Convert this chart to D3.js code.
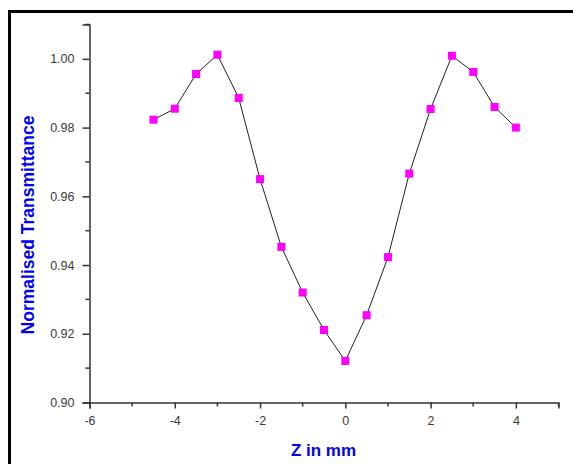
<!DOCTYPE html>
<html>
<head>
<meta charset="utf-8">
<script src="https://cdn.jsdelivr.net/npm/d3@7"></script>
<style>
  body { margin: 0; background: #fff; }
  svg { display: block; font-family: Arial, "Liberation Sans", sans-serif; }
</style>
</head>
<body>
<svg id="chart" width="573" height="464"></svg>
<script>
// z-scan data
const zPos = [-4.5, -4, -3.5, -3, -2.5, -2, -1.5, -1, -0.5, 0, 0.5, 1, 1.5, 2, 2.5, 3, 3.5, 4]
const transmittance = [0.9823, 0.9855, 0.9956, 1.0012, 0.9886, 0.9650, 0.9453, 0.9320, 0.9211,
    0.9121, 0.9254, 0.9423, 0.9666, 0.9854, 1.0009, 0.9962, 0.9860, 0.9800]
const xTicks = [-6, -4, -2, 0, 2, 4]
const xMinor = [-5, -3, -1, 1, 3, 5]
const yTicks = [0.90, 0.92, 0.94, 0.96, 0.98, 1.00]
const yMinor = [0.91, 0.93, 0.95, 0.97, 0.99, 1.01]

const svg = d3.select('#chart')
const axisColor = '#333'

// thick frame, only left and top are visible in the window
svg.append('path')
    .attr('d', 'M9.5,475 L9.5,11.5 L585,11.5')
    .attr('fill', 'none')
    .attr('stroke', '#000')
    .attr('stroke-width', 3)

const xAxis = d3.scaleLinear().domain([-6, 5]).range([89.5, 558.5])
const yAxis = d3.scaleLinear().domain([0.90, 1.01]).range([402.5, 24.5])

/**
 * draw one axis with major + minor ticks
 */
const drawAxis = (axisGen, minorGen, translate) => {
    const g = svg.append('g').attr('transform', translate)
    g.call(axisGen)
    g.call(minorGen)
    g.selectAll('path.domain').attr('stroke', axisColor).attr('stroke-width', 1.5)
    g.selectAll('line').attr('stroke', axisColor).attr('stroke-width', 1.5)
    g.selectAll('text')
        .attr('fill', '#3a3a3a')
        .style('font-size', '12.5px')
    return g
}

drawAxis(
    // plain hyphen for negatives, like the original
    d3.axisBottom(xAxis).tickValues(xTicks).tickSize(6).tickPadding(8).tickFormat(d => String(d)),
    g => g.append('g').selectAll('line')
        .data(xMinor).enter().append('line')
        .attr('x1', d => xAxis(d)).attr('x2', d => xAxis(d))
        .attr('y1', 0).attr('y2', 4),
    `translate(0,${yAxis(0.90)})`
)

drawAxis(
    d3.axisLeft(yAxis).tickValues(yTicks).tickSize(7).tickPadding(8).tickFormat(d3.format('.2f')),
    g => g.append('g').selectAll('line')
        .data(yMinor).enter().append('line')
        .attr('y1', d => yAxis(d)).attr('y2', d => yAxis(d))
        .attr('x1', 0).attr('x2', -4),
    `translate(${xAxis(-6)},0)`
)

// axis titles
svg.append('text')
    .attr('x', 323.5)
    .attr('y', 456)
    .attr('text-anchor', 'middle')
    .style('font-size', '17px')
    .style('font-weight', 'bold')
    .style('fill', '#0000ee')
    .text('Z in mm')

svg.append('text')
    .attr('transform', 'translate(34,225) rotate(-90)')
    .attr('text-anchor', 'middle')
    .style('font-size', '17.5px')
    .style('font-weight', 'bold')
    .style('fill', '#0000ee')
    .text('Normalised Transmittance')

const data = zPos.map((x, i) => ({x: x, y: transmittance[i]}))

// connecting line
svg.append('path')
    .datum(data)
    .attr('d', d3.line().x(d => xAxis(d.x)).y(d => yAxis(d.y)))
    .attr('fill', 'none')
    .attr('stroke', '#222')
    .attr('stroke-width', 1)

// square markers
const size = 8
svg.append('g')
    .selectAll('rect')
    .data(data)
    .enter()
    .append('rect')
        .attr('x', d => xAxis(d.x) - size / 2)
        .attr('y', d => yAxis(d.y) - size / 2)
        .attr('width', size)
        .attr('height', size)
        .style('fill', '#ff00ff')
</script>
</body>
</html>
